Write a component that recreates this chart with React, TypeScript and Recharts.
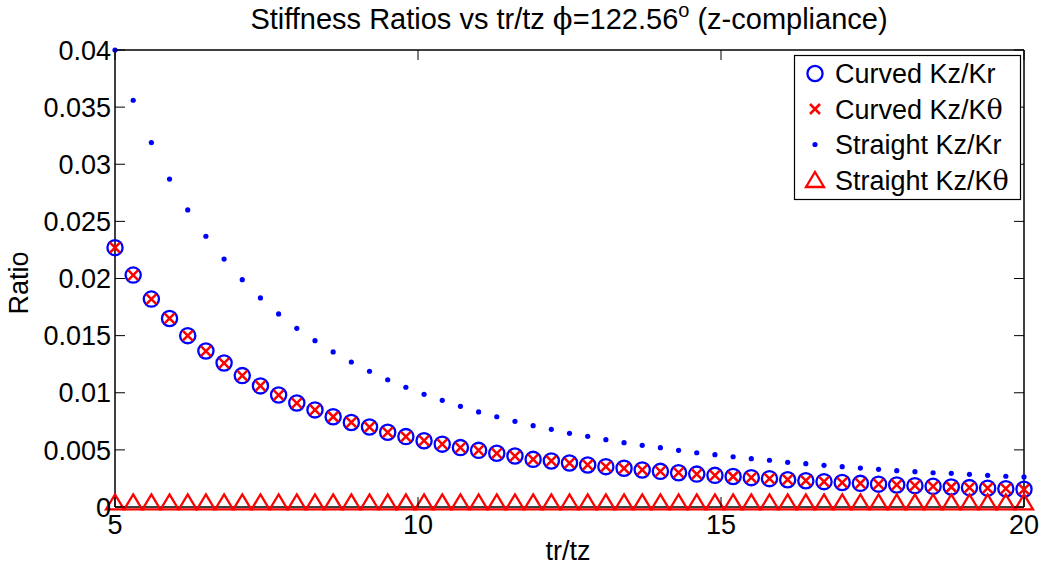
import React from "react";
import { ScatterChart, Scatter, XAxis, YAxis } from "recharts";

// tr/tz sample positions
const trTz = [
  5, 5.3, 5.6, 5.9, 6.2, 6.5, 6.8, 7.1, 7.4, 7.7, 8, 8.3, 8.6, 8.9, 9.2, 9.5,
  9.8, 10.1, 10.4, 10.7, 11, 11.3, 11.6, 11.9, 12.2, 12.5, 12.8, 13.1, 13.4,
  13.7, 14, 14.3, 14.6, 14.9, 15.2, 15.5, 15.8, 16.1, 16.4, 16.7, 17, 17.3,
  17.6, 17.9, 18.2, 18.5, 18.8, 19.1, 19.4, 19.7, 20,
];

const curvedKzKr = [
  0.0227, 0.0203, 0.0182, 0.0165, 0.015, 0.01365, 0.0126, 0.0115, 0.0106,
  0.0098, 0.0091, 0.0085, 0.0079, 0.0074, 0.007, 0.00654, 0.00616, 0.0058,
  0.0055, 0.0052, 0.00496, 0.0047, 0.00446, 0.00417, 0.00403, 0.00385,
  0.00368, 0.00353, 0.00339, 0.00324, 0.00312, 0.003, 0.00288, 0.00277,
  0.00267, 0.00257, 0.00248, 0.00239, 0.0023, 0.00222, 0.00214, 0.00207,
  0.002, 0.00193, 0.00187, 0.00181, 0.00175, 0.0017, 0.00165, 0.0016, 0.00155,
];

const curvedKzKtheta = [
  0.0227, 0.0203, 0.0182, 0.0165, 0.015, 0.01365, 0.0126, 0.0115, 0.0106,
  0.0098, 0.0091, 0.0085, 0.0079, 0.0074, 0.007, 0.00654, 0.00616, 0.0058,
  0.0055, 0.0052, 0.00496, 0.0047, 0.00446, 0.00417, 0.00403, 0.00385,
  0.00368, 0.00353, 0.00339, 0.00324, 0.00312, 0.003, 0.00288, 0.00277,
  0.00267, 0.00257, 0.00248, 0.00239, 0.0023, 0.00222, 0.00214, 0.00207,
  0.002, 0.00193, 0.00187, 0.00181, 0.00175, 0.0017, 0.00165, 0.0016, 0.00155,
];

const straightKzKr = [
  0.04, 0.0356, 0.0319, 0.0287, 0.026, 0.0237, 0.0217, 0.0199, 0.0183, 0.0169,
  0.01564, 0.01456, 0.01357, 0.01269, 0.01188, 0.01114, 0.01048, 0.00986,
  0.00934, 0.00881, 0.00832, 0.0079, 0.0075, 0.00712, 0.0068, 0.00645,
  0.00619, 0.00589, 0.00563, 0.0054, 0.00519, 0.00496, 0.00475, 0.00458,
  0.0044, 0.00423, 0.00409, 0.00391, 0.00379, 0.00365, 0.00353, 0.00341,
  0.0033, 0.00318, 0.00309, 0.003, 0.00295, 0.00286, 0.00277, 0.00269, 0.00263,
];

const straightKzKtheta = [
  0.0004, 0.0004, 0.0004, 0.0004, 0.0004, 0.0004, 0.0004, 0.0004, 0.0004,
  0.0004, 0.0004, 0.0004, 0.0004, 0.0004, 0.0004, 0.0004, 0.0004, 0.0004,
  0.0004, 0.0004, 0.0004, 0.0004, 0.0004, 0.0004, 0.0004, 0.0004, 0.0004,
  0.0004, 0.0004, 0.0004, 0.0004, 0.0004, 0.0004, 0.0004, 0.0004, 0.0004,
  0.0004, 0.0004, 0.0004, 0.0004, 0.0004, 0.0004, 0.0004, 0.0004, 0.0004,
  0.0004, 0.0004, 0.0004, 0.0004, 0.0004, 0.0004,
];

const xTicks = [5, 10, 15, 20];
const yTicks = [0, 0.005, 0.01, 0.015, 0.02, 0.025, 0.03, 0.035, 0.04];

const toPoints = (vals: number[]) => vals.map((y, i) => ({ x: trTz[i], y }));

const FONT = '"Liberation Sans", Arial, sans-serif';
const SYM = '"DejaVu Serif", "Liberation Serif", serif';
const BLUE = "#0000ff";
const RED = "#ff0000";
const TICK = 10;
const FS = 27;

const CircleMark = (p: any) => (
  <circle cx={p.cx} cy={p.cy} r={7.6} fill="none" stroke={BLUE} strokeWidth={2.3} />
);
const CrossMark = (p: any) => (
  <path
    d={`M${p.cx - 5},${p.cy - 5}L${p.cx + 5},${p.cy + 5}M${p.cx - 5},${p.cy + 5}L${p.cx + 5},${p.cy - 5}`}
    stroke={RED}
    strokeWidth={2.5}
    fill="none"
  />
);
const DotMark = (p: any) => <circle cx={p.cx} cy={p.cy} r={2.6} fill={BLUE} />;
const TriMark = (p: any) => (
  <path
    d={`M${p.cx},${p.cy - 8}L${p.cx + 9},${p.cy + 7}L${p.cx - 9},${p.cy + 7}Z`}
    stroke={RED}
    strokeWidth={2.3}
    fill="none"
  />
);

const BottomTick = ({ x, y, payload }: any) => (
  <g>
    <line x1={x} y1={y} x2={x} y2={y - TICK} stroke="#000" strokeWidth={1} />
    <text x={x} y={y + 27} textAnchor="middle" fontSize={FS} fontFamily={FONT} fill="#000">
      {payload.value}
    </text>
  </g>
);
const TopTick = ({ x, y }: any) => (
  <line x1={x} y1={y} x2={x} y2={y + TICK} stroke="#000" strokeWidth={1} />
);
const LeftTick = ({ x, y, payload }: any) => (
  <g>
    <line x1={x} y1={y} x2={x + TICK} y2={y} stroke="#000" strokeWidth={1} />
    <text x={x - 4} y={y} dy="0.36em" textAnchor="end" fontSize={FS} fontFamily={FONT} fill="#000">
      {String(payload.value)}
    </text>
  </g>
);
const RightTick = ({ x, y }: any) => (
  <line x1={x} y1={y} x2={x - TICK} y2={y} stroke="#000" strokeWidth={1} />
);

const legendRows = [
  { label: "Curved Kz/Kr", theta: false },
  { label: "Curved Kz/K", theta: true },
  { label: "Straight Kz/Kr", theta: false },
  { label: "Straight Kz/K", theta: true },
];
const legendMarks = [CircleMark, CrossMark, DotMark, TriMark];

export default function App() {
  const axisLine = { stroke: "#000", strokeWidth: 1.5 };
  return (
    <div style={{ position: "absolute", left: 0, top: 0, width: 1042, height: 567, background: "#fff" }}>
      <ScatterChart
        width={1042}
        height={567}
        margin={{ top: 49, right: 17, bottom: 10, left: 10 }}
      >
        <XAxis
          xAxisId="b"
          type="number"
          dataKey="x"
          domain={[5, 20]}
          ticks={xTicks}
          height={50}
          tickSize={0}
          tickMargin={0}
          tickLine={false}
          axisLine={axisLine}
          tick={<BottomTick />}
        />
        <XAxis
          xAxisId="t"
          orientation="top"
          type="number"
          dataKey="x"
          domain={[5, 20]}
          ticks={xTicks}
          height={1}
          tickSize={0}
          tickMargin={0}
          tickLine={false}
          axisLine={axisLine}
          tick={<TopTick />}
        />
        <YAxis
          yAxisId="l"
          type="number"
          dataKey="y"
          domain={[0, 0.04]}
          ticks={yTicks}
          width={105}
          tickSize={0}
          tickMargin={0}
          tickLine={false}
          axisLine={axisLine}
          tick={<LeftTick />}
        />
        <YAxis
          yAxisId="r"
          orientation="right"
          type="number"
          dataKey="y"
          domain={[0, 0.04]}
          ticks={yTicks}
          width={1}
          tickSize={0}
          tickMargin={0}
          tickLine={false}
          axisLine={axisLine}
          tick={<RightTick />}
        />
        <Scatter xAxisId="b" yAxisId="l" data={toPoints(curvedKzKr)} shape={CircleMark} isAnimationActive={false} />
        <Scatter xAxisId="b" yAxisId="l" data={toPoints(curvedKzKtheta)} shape={CrossMark} isAnimationActive={false} />
        <Scatter xAxisId="t" yAxisId="r" data={toPoints(straightKzKr)} shape={DotMark} isAnimationActive={false} />
        <Scatter xAxisId="b" yAxisId="l" data={toPoints(straightKzKtheta)} shape={TriMark} isAnimationActive={false} />
      </ScatterChart>
      <svg
        width={1042}
        height={567}
        style={{ position: "absolute", left: 0, top: 0, pointerEvents: "none" }}
      >
        <text x={569} y={29} textAnchor="middle" fontSize={29} fontFamily={FONT} fill="#000">
          Stiffness Ratios vs tr/tz <tspan fontFamily={SYM}>ϕ</tspan>=122.56
          <tspan fontSize={20} dy={-12}>o</tspan>
          <tspan dy={12}> (z-compliance)</tspan>
        </text>
        <text x={568} y={560} textAnchor="middle" fontSize={FS} fontFamily={FONT} fill="#000">
          tr/tz
        </text>
        <text
          x={0}
          y={0}
          transform="translate(28,283) rotate(-90)"
          textAnchor="middle"
          fontSize={FS}
          fontFamily={FONT}
          fill="#000"
        >
          Ratio
        </text>
        <rect x={794.5} y={55.5} width={226} height={144} fill="#fff" stroke="#000" strokeWidth={1.2} />
        {legendRows.map((row, i) => {
          const cy = 73.5 + i * 35.5;
          const Mark = legendMarks[i];
          return (
            <g key={row.label + i}>
              <Mark cx={815} cy={cy} />
              <text x={835} y={cy + 9.5} fontSize={FS} fontFamily={FONT} fill="#000">
                {row.label}
                {row.theta && <tspan fontFamily={SYM}>θ</tspan>}
              </text>
            </g>
          );
        })}
      </svg>
    </div>
  );
}
